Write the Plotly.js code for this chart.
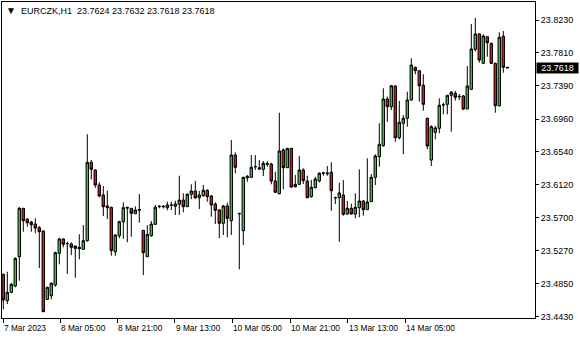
<!DOCTYPE html>
<html><head><meta charset="utf-8">
<script src="https://cdn.plot.ly/plotly-3.0.1.min.js"></script>
<style>html,body{margin:0;padding:0;background:#fff;overflow:hidden}</style>
</head><body><div id="chart" style="width:580px;height:340px"></div>
<script>
// EURCZK H1 candles (open, high, low, close), oldest first
const openP = [23.4971,23.4633,23.4740,23.4821,23.5197,23.5817,23.5676,23.5641,23.5616,23.5568,
23.5526,23.4650,23.4697,23.4834,23.5240,23.5424,23.5363,23.5360,23.5334,23.5317,
23.5292,23.5402,23.6407,23.6308,23.6116,23.5988,23.5847,23.5830,23.5261,23.5466,
23.5645,23.5830,23.5817,23.5748,23.5791,23.5535,23.5197,23.5466,23.5612,23.5838,
23.5843,23.5825,23.5856,23.5843,23.5868,23.5923,23.5838,23.5997,23.6039,23.5953,
23.5979,23.6048,23.5975,23.5872,23.5795,23.5625,23.5847,23.5658,23.6500,23.5753,
23.5530,23.6206,23.6214,23.6353,23.6338,23.6317,23.6381,23.6385,23.6167,23.6004,
23.6565,23.6338,23.6586,23.6125,23.6125,23.6308,23.6167,23.5966,23.6081,23.6167,
23.6266,23.6271,23.6279,23.5953,23.5953,23.5988,23.5744,23.5817,23.5744,23.5825,
23.5911,23.5800,23.5902,23.6214,23.6479,23.6620,23.7218,23.7120,23.7385,23.6722,
23.6907,23.6971,23.7206,23.7625,23.7581,23.7394,23.6971,23.6436,23.6791,23.6843,
23.7145,23.7150,23.7266,23.7291,23.7253,23.7257,23.7090,23.7343,23.7855,23.8052,
23.7676,23.8017,23.7932,23.7676,23.7132,23.8022,23.7624];
const highP = [23.4980,23.5004,23.4860,23.5189,23.5834,23.5823,23.5693,23.5658,23.5689,23.5590,
23.5535,23.4812,23.4868,23.5261,23.5440,23.5433,23.5389,23.5381,23.5338,23.5484,
23.5603,23.6766,23.6436,23.6317,23.6150,23.6103,23.6043,23.5838,23.5484,23.5658,
23.5894,23.5838,23.5822,23.5843,23.6000,23.5535,23.5603,23.5654,23.5860,23.5860,
23.5860,23.5902,23.5904,23.5915,23.6235,23.6010,23.6010,23.6125,23.6167,23.6039,
23.6116,23.6061,23.5988,23.5894,23.5808,23.5860,23.5889,23.6693,23.6535,23.5756,
23.6222,23.6244,23.6500,23.6500,23.6436,23.6423,23.6423,23.6402,23.6286,23.7043,
23.6586,23.6586,23.6586,23.6244,23.6488,23.6330,23.6235,23.6180,23.6222,23.6279,
23.6286,23.6360,23.6407,23.5966,23.6145,23.6180,23.5911,23.5876,23.6010,23.6317,
23.5923,23.6458,23.6257,23.6509,23.6907,23.7356,23.7248,23.7398,23.7394,23.7193,
23.7013,23.7312,23.7740,23.7634,23.7590,23.7535,23.6979,23.6881,23.6872,23.7227,
23.7171,23.7266,23.7321,23.7321,23.7283,23.7270,23.7641,23.8180,23.8257,23.8061,
23.8048,23.8026,23.7940,23.7684,23.8073,23.8090,23.7632];
const lowP = [23.4522,23.4590,23.4727,23.4804,23.4889,23.5517,23.5581,23.5517,23.5497,23.5052,
23.4487,23.4642,23.4650,23.4812,23.5099,23.5317,23.4975,23.5218,23.4927,23.5163,
23.5283,23.5389,23.6189,23.6081,23.5958,23.5718,23.5680,23.5209,23.5209,23.5433,
23.5424,23.5381,23.5453,23.5748,23.5633,23.4962,23.5197,23.5453,23.5603,23.5817,
23.5815,23.5792,23.5794,23.5731,23.5731,23.5766,23.5838,23.5933,23.5936,23.5808,
23.5966,23.5902,23.5710,23.5616,23.5433,23.5475,23.5445,23.5475,23.6266,23.5035,
23.5347,23.6158,23.6210,23.6308,23.6308,23.6231,23.6351,23.6125,23.6022,23.5997,
23.6061,23.6338,23.6081,23.6086,23.6116,23.6129,23.5953,23.5953,23.6073,23.6150,
23.6235,23.6235,23.5786,23.5872,23.5389,23.5722,23.5731,23.5740,23.5689,23.5702,
23.5722,23.5795,23.5902,23.6116,23.6351,23.6607,23.6927,23.7077,23.6671,23.6702,
23.6509,23.6863,23.7197,23.7535,23.7184,23.7068,23.6574,23.6360,23.6702,23.6779,
23.7022,23.7022,23.6799,23.7197,23.7206,23.7077,23.7090,23.7334,23.7825,23.7684,
23.7667,23.7761,23.7667,23.7043,23.7124,23.7556,23.7618];
const closeP = [23.4642,23.4740,23.4843,23.5176,23.5817,23.5658,23.5633,23.5607,23.5565,23.5517,
23.4492,23.4804,23.4856,23.5248,23.5424,23.5356,23.5366,23.5317,23.5304,23.5299,
23.5402,23.6407,23.6317,23.6116,23.5975,23.5838,23.5825,23.5274,23.5475,23.5645,
23.5825,23.5821,23.5753,23.5795,23.5802,23.5248,23.5484,23.5616,23.5830,23.5843,
23.5838,23.5860,23.5858,23.5872,23.5923,23.5838,23.5997,23.6039,23.5953,23.5988,
23.6048,23.5966,23.5860,23.5792,23.5625,23.5847,23.5689,23.6500,23.6343,23.5748,
23.6214,23.6227,23.6343,23.6350,23.6321,23.6394,23.6389,23.6167,23.6022,23.6552,
23.6338,23.6586,23.6090,23.6094,23.6308,23.6171,23.5953,23.6086,23.6193,23.6266,
23.6271,23.6262,23.6043,23.5953,23.6013,23.5740,23.5817,23.5744,23.5830,23.5911,
23.5800,23.5898,23.6214,23.6488,23.6638,23.7218,23.7120,23.7389,23.6722,23.6920,
23.6971,23.7206,23.7654,23.7581,23.7389,23.7150,23.6616,23.6863,23.6847,23.7138,
23.7142,23.7266,23.7304,23.7240,23.7248,23.7090,23.7385,23.7859,23.8052,23.7718,
23.8026,23.7940,23.7676,23.7132,23.8009,23.7625,23.7618];

// axis labels
const yTickVals = [23.4430,23.4850,23.5270,23.5700,23.6120,23.6540,23.6960,23.7390,23.7810,23.8230];
const yTickText = ["23.4430","23.4850","23.5270","23.5700","23.6120","23.6540","23.6960","23.7390","23.7810","23.8230"];
const xTickIdx = [0, 14.2, 28.5, 42.85, 57.25, 71.7, 86.1, 100.5];
const xTickText = ["7 Mar 2023","8 Mar 05:00","8 Mar 21:00","9 Mar 13:00","10 Mar 05:00","10 Mar 21:00","13 Mar 13:00","14 Mar 05:00"];
const symbolTitle = "EURCZK,H1";
const lastBar = {o: "23.7624", h: "23.7632", l: "23.7618", c: "23.7618"};
const currentPrice = 23.7618;

const FONT = "Liberation Sans, Arial, DejaVu Sans, sans-serif";
const idx = openP.map((_, i) => i);

const trace = {
  type: 'candlestick',
  x: idx, open: openP, high: highP, low: lowP, close: closeP,
  increasing: {line: {color: '#000000', width: 1}, fillcolor: '#33c233'},
  decreasing: {line: {color: '#000000', width: 1}, fillcolor: '#e60f0f'},
  whiskerwidth: 0,
  hoverinfo: 'none',
  showlegend: false
};

const annotations = xTickText.map((t, i) => ({
  x: xTickIdx[i], xref: 'x', y: 0, yref: 'paper',
  xanchor: 'left', yanchor: 'top', yshift: -3, xshift: -1,
  text: t, showarrow: false, font: {family: FONT, size: 8.3, color: '#000'}
}));
annotations.push({
  x: 0, xref: 'paper', y: 1, yref: 'paper', xanchor: 'left', yanchor: 'top',
  xshift: 2, yshift: -1,
  text: '<span style="font-size:10px">\u25BC</span>\u00A0\u00A0' + symbolTitle + '\u00A0\u00A0' + [lastBar.o, lastBar.h, lastBar.l, lastBar.c].join(' '),
  showarrow: false, font: {family: FONT, size: 9, color: '#000'}
});
annotations.push({
  x: 1, xref: 'paper', y: currentPrice, yref: 'y', xanchor: 'left', yanchor: 'middle',
  xshift: 1, text: currentPrice.toFixed(4), showarrow: false,
  bgcolor: '#000000', borderpad: 0, width: 41, height: 10,
  font: {family: FONT, size: 9, color: '#ffffff'}
});

const layout = {
  width: 580, height: 340,
  margin: {l: 2, r: 45, t: 2, b: 22, pad: 0},
  paper_bgcolor: '#ffffff', plot_bgcolor: '#ffffff',
  boxgap: 0.12,
  xaxis: {
    range: [-0.325, 132.925], showgrid: false, zeroline: false,
    showline: true, mirror: true, linecolor: '#000', linewidth: 1,
    tickmode: 'array', tickvals: xTickIdx, ticktext: xTickText,
    showticklabels: false, ticks: 'outside', ticklen: 4, tickcolor: '#000', tickwidth: 1,
    rangeslider: {visible: false}, fixedrange: true
  },
  yaxis: {
    range: [23.4411, 23.8462], side: 'right', showgrid: false, zeroline: false,
    showline: true, mirror: true, linecolor: '#000', linewidth: 1,
    tickmode: 'array', tickvals: yTickVals, ticktext: yTickText,
    ticks: 'outside', ticklen: 3, tickcolor: '#000', tickwidth: 1,
    tickfont: {family: FONT, size: 9, color: '#000'}, fixedrange: true
  },
  annotations: annotations
};

Plotly.newPlot('chart', [trace], layout, {staticPlot: true, displayModeBar: false});
</script>
</body></html>
